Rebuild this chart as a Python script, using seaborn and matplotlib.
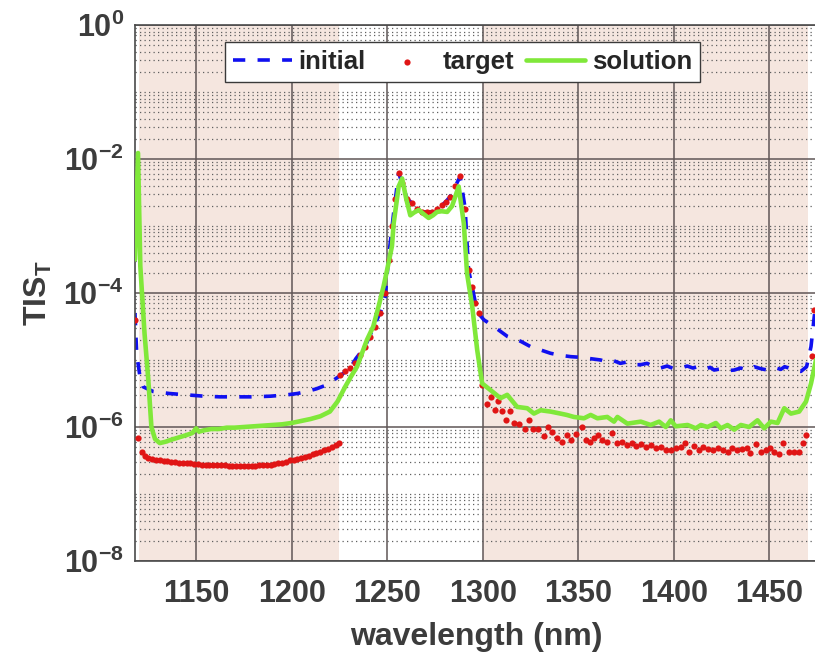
import numpy as np
import pandas as pd
import matplotlib
matplotlib.use("Agg")
import matplotlib.pyplot as plt
import seaborn as sns
from matplotlib.ticker import FixedLocator, NullFormatter, FuncFormatter

# wavelength (nm) and TIS given as log10 exponent
wl_initial = [1118.0, 1118.9, 1120.6, 1122.3, 1127.5, 1136.0, 1145.0, 1154.0, 1162.5, 1171.0,
              1180.0, 1189.0, 1197.5, 1203.0, 1208.0, 1213.0, 1218.5, 1222.0, 1227.0, 1230.6,
              1233.6, 1238.4, 1242.3, 1246.5, 1249.0, 1250.8, 1253.4, 1256.0, 1257.8, 1260.4,
              1263.0, 1265.6, 1268.2, 1270.8, 1273.4, 1276.0, 1278.6, 1280.6, 1283.0, 1285.6,
              1288.2, 1290.8, 1292.6, 1294.5, 1296.2, 1298.5, 1300.6, 1305.8, 1313.0, 1319.8,
              1325.0, 1330.3, 1335.5, 1340.7, 1346.0, 1351.2, 1356.4, 1361.7, 1365.0, 1368.5,
              1372.0, 1375.5, 1379.0, 1382.7, 1386.0, 1389.5, 1393.0, 1396.5, 1400.0, 1403.6,
              1407.0, 1410.0, 1412.4, 1416.0, 1419.0, 1421.1, 1425.0, 1428.0, 1431.6, 1435.0,
              1438.5, 1442.0, 1445.5, 1449.0, 1452.5, 1456.0, 1458.0, 1461.5, 1464.0, 1466.5,
              1469.5, 1471.8, 1473.5, 1475.0]
log_initial = [-4.30, -4.90, -5.25, -5.40, -5.47, -5.50, -5.52, -5.54, -5.55, -5.55,
               -5.55, -5.54, -5.52, -5.50, -5.47, -5.43, -5.37, -5.30, -5.20, -5.12,
               -4.98, -4.80, -4.55, -4.28, -4.05, -3.45, -2.80, -2.21, -2.36, -2.59,
               -2.66, -2.74, -2.79, -2.79, -2.79, -2.74, -2.69, -2.64, -2.56, -2.41,
               -2.26, -2.74, -3.66, -3.91, -4.15, -4.33, -4.40, -4.50, -4.65, -4.72,
               -4.80, -4.85, -4.90, -4.93, -4.95, -4.96, -4.98, -5.00, -5.03, -5.01,
               -5.05, -5.03, -5.07, -5.07, -5.05, -5.10, -5.12, -5.09, -5.13, -5.12,
               -5.09, -5.12, -5.10, -5.14, -5.11, -5.15, -5.13, -5.16, -5.15, -5.12,
               -5.15, -5.10, -5.13, -5.15, -5.11, -5.14, -5.10, -5.13, -5.16, -5.17,
               -5.10, -4.80, -4.35, -4.05]

# target: low in the stop bands, equal to initial in the pass band
wl_target_low = [1118.2, 1119.7, 1121.5,
                 1123, 1125, 1127, 1129, 1131, 1133, 1135, 1137, 1139, 1141,
                 1143, 1145, 1147, 1149, 1151, 1153, 1155, 1157, 1159, 1161,
                 1163, 1165, 1167, 1169, 1171, 1173, 1175, 1177, 1179, 1181,
                 1183, 1185, 1187, 1189, 1191, 1193, 1195, 1197, 1199, 1201,
                 1203, 1205, 1207, 1209, 1211, 1213, 1215, 1217, 1219, 1221,
                 1223, 1225]
log_target_low = [-4.40, -6.17, -6.38,
                  -6.44, -6.46, -6.48, -6.49, -6.50, -6.51, -6.51, -6.52, -6.52, -6.53,
                  -6.53, -6.54, -6.54, -6.55, -6.55, -6.56, -6.56, -6.56, -6.57, -6.57,
                  -6.57, -6.57, -6.58, -6.58, -6.58, -6.58, -6.58, -6.58, -6.58, -6.58,
                  -6.57, -6.57, -6.56, -6.56, -6.55, -6.54, -6.53, -6.52, -6.50, -6.49,
                  -6.48, -6.46, -6.45, -6.43, -6.41, -6.39, -6.37, -6.35, -6.33, -6.30,
                  -6.27, -6.24]
wl_target_pass = [1225.4, 1228.0, 1230.6, 1233.2, 1235.8, 1238.4, 1241.0, 1243.6, 1246.2, 1248.8,
                  1250.8, 1252.4, 1254.0, 1256.0, 1257.8, 1260.4, 1263.0, 1265.6, 1268.2, 1270.8,
                  1273.4, 1276.0, 1278.6, 1280.6, 1283.0, 1285.6, 1288.2, 1290.8, 1292.6, 1294.5,
                  1296.2, 1297.9]
log_target_pass = [-5.22, -5.17, -5.12, -5.05, -4.93, -4.80, -4.66, -4.50, -4.30, -4.00,
                   -3.50, -3.00, -2.60, -2.21, -2.36, -2.59, -2.66, -2.74, -2.79, -2.79,
                   -2.79, -2.74, -2.69, -2.64, -2.56, -2.41, -2.26, -2.74, -3.66, -3.91,
                   -4.15, -4.30]
wl_target_high = [1299.7, 1302.0, 1304.1, 1306.3, 1308.1, 1310.2, 1312.4, 1314.2, 1316.3, 1318.9,
                  1321.9, 1324.1, 1326.2, 1329.1, 1332.0, 1334.1, 1336.4, 1339.0, 1341.6, 1344.3,
                  1346.4, 1348.6, 1352.1, 1353.9, 1356.1, 1358.2, 1360.5, 1362.6, 1365.2, 1367.8,
                  1370.5, 1373.1, 1375.7, 1378.0, 1380.3, 1382.7, 1385.2, 1387.9, 1390.5, 1393.1,
                  1395.8, 1398.4, 1401.0, 1403.6, 1406.0, 1408.2, 1410.7, 1413.2, 1415.5, 1418.0,
                  1420.6, 1423.0, 1425.8, 1428.1, 1430.7, 1433.2, 1435.7, 1438.2, 1440.0, 1443.0,
                  1445.6, 1448.0, 1450.6, 1452.6, 1455.0, 1457.3, 1460.3, 1462.9, 1465.6, 1467.4,
                  1469.1, 1472.3, 1473.5]
log_target_high = [-5.37, -5.66, -5.55, -5.74, -5.61, -5.76, -5.89, -5.76, -5.94, -5.96,
                   -6.03, -5.89, -6.03, -6.03, -6.13, -6.00, -6.07, -6.17, -6.22, -6.12,
                   -6.20, -6.10, -6.00, -6.19, -6.23, -6.17, -6.12, -6.20, -6.22, -6.09,
                   -6.24, -6.22, -6.27, -6.24, -6.29, -6.26, -6.30, -6.27, -6.32, -6.30,
                   -6.34, -6.34, -6.32, -6.30, -6.24, -6.37, -6.29, -6.34, -6.30, -6.33,
                   -6.34, -6.31, -6.34, -6.37, -6.32, -6.34, -6.33, -6.31, -6.39, -6.25,
                   -6.37, -6.34, -6.32, -6.38, -6.40, -6.24, -6.37, -6.38, -6.38, -6.24,
                   -6.12, -4.94, -4.25]

wl_solution = [1118.0, 1119.6, 1120.8, 1123.0, 1125.0, 1126.6, 1128.5, 1131.0, 1134.0, 1137.0,
               1141.6, 1145.0, 1148.0, 1150.0, 1151.5, 1154.0, 1158.0, 1162.0, 1166.0, 1170.0,
               1175.0, 1180.0, 1185.0, 1190.0, 1195.0, 1200.0, 1205.0, 1210.0, 1215.0, 1220.0,
               1224.0, 1228.0, 1231.0, 1234.2, 1239.4, 1242.7, 1245.5, 1248.1, 1250.0, 1252.5,
               1253.4, 1256.0, 1257.8, 1260.0, 1262.1, 1264.0, 1266.5, 1269.0, 1271.7, 1274.0,
               1276.1, 1278.5, 1281.4, 1284.0, 1287.4, 1290.1, 1291.8, 1294.5, 1297.1, 1299.7,
               1304.1, 1309.3, 1312.8, 1318.0, 1323.3, 1326.8, 1330.3, 1335.5, 1340.7, 1344.0,
               1347.7, 1353.0, 1356.5, 1360.0, 1365.2, 1368.7, 1370.5, 1375.7, 1382.7, 1387.9,
               1392.3, 1395.8, 1398.4, 1401.0, 1407.2, 1411.5, 1414.2, 1417.6, 1422.0, 1424.6,
               1428.1, 1431.6, 1435.1, 1439.4, 1443.8, 1447.3, 1450.8, 1454.3, 1457.8, 1461.3,
               1465.6, 1469.2, 1471.8, 1474.4, 1475.0]
log_solution = [-3.50, -1.91, -3.60, -4.60, -5.30, -6.00, -6.18, -6.24, -6.22, -6.19,
                -6.15, -6.12, -6.09, -6.02, -6.07, -6.05, -6.03, -6.03, -6.01, -6.01,
                -6.00, -5.99, -5.98, -5.97, -5.96, -5.94, -5.91, -5.88, -5.84, -5.77,
                -5.62, -5.40, -5.25, -5.10, -4.70, -4.50, -4.20, -3.90, -3.65, -3.30,
                -2.96, -2.41, -2.29, -2.60, -2.84, -2.80, -2.76, -2.82, -2.88, -2.84,
                -2.79, -2.78, -2.79, -2.70, -2.41, -2.96, -3.71, -4.20, -4.85, -5.35,
                -5.45, -5.57, -5.52, -5.70, -5.72, -5.80, -5.75, -5.77, -5.80, -5.82,
                -5.85, -5.87, -5.82, -5.87, -5.85, -5.92, -5.85, -5.95, -5.92, -5.97,
                -5.92, -6.00, -5.90, -5.99, -5.97, -6.02, -5.97, -6.00, -5.94, -6.02,
                -5.97, -6.04, -5.97, -6.00, -5.90, -6.02, -5.92, -5.94, -5.72, -5.80,
                -5.77, -5.62, -5.35, -5.00, -4.85]

stop_bands = [(1120, 1225), (1300, 1470)]
x_ticks = [1150, 1200, 1250, 1300, 1350, 1400, 1450]

df_init = pd.DataFrame({"wl": wl_initial, "tis": 10.0 ** np.array(log_initial)})
df_target = pd.DataFrame({
    "wl": wl_target_low + wl_target_pass + wl_target_high,
    "tis": 10.0 ** np.array(log_target_low + log_target_pass + log_target_high),
})
df_sol = pd.DataFrame({"wl": wl_solution, "tis": 10.0 ** np.array(log_solution)})

sns.set_style("white")
plt.rcParams["font.family"] = ["Liberation Sans", "DejaVu Sans"]
plt.rcParams["font.weight"] = "bold"
plt.rcParams["axes.labelweight"] = "bold"
plt.rcParams["mathtext.fontset"] = "custom"
plt.rcParams["mathtext.rm"] = "Liberation Sans:bold"
plt.rcParams["mathtext.it"] = "Liberation Sans:bold"
plt.rcParams["mathtext.bf"] = "Liberation Sans:bold"
plt.rcParams["mathtext.default"] = "rm"

txt = "#3c3c3c"

fig = plt.figure(figsize=(8.15, 6.53), dpi=100)
ax = fig.add_axes([0.1656, 0.1409, 0.837, 0.8208])
ax.set_yscale("log")

for lo, hi in stop_bands:
    ax.axvspan(lo, hi, color="#f5e6df", lw=0, zorder=0.1)

sns.lineplot(data=df_init, x="wl", y="tis", ax=ax, color="#1010f0", lw=2.6,
             linestyle=(0, (3.4, 3.4)), label="initial", zorder=2.5)
sns.scatterplot(data=df_target, x="wl", y="tis", ax=ax, color="#e01515", s=20,
                linewidth=0, label="target", zorder=3)
sns.lineplot(data=df_sol, x="wl", y="tis", ax=ax, color="#80e83a", lw=3.3,
             label="solution", zorder=4)

ax.set_xlim(1118, 1475)
ax.set_ylim(1e-8, 1)
ax.set_xticks(x_ticks)
ax.yaxis.set_major_locator(FixedLocator([1e-8, 1e-6, 1e-4, 1e-2, 1]))
ax.yaxis.set_major_formatter(FuncFormatter(lambda v, _: f"$10^{{{int(round(np.log10(v)))}}}$"))
minor_pos = [k * 10.0 ** n for n in range(-8, 0) for k in range(1, 10)
             if not (k == 1 and n % 2 == 0)]
ax.yaxis.set_minor_locator(FixedLocator(minor_pos))
ax.yaxis.set_minor_formatter(NullFormatter())

ax.set_axisbelow(True)
ax.grid(which="major", axis="both", color="#5f5656", linestyle="-", linewidth=1.1)
ax.grid(which="minor", axis="y", color="#606060", linestyle=(0, (1, 2.6)), linewidth=0.9)

ax.tick_params(axis="both", which="both", direction="in", colors=txt)
ax.tick_params(axis="x", which="major", labelsize=22, pad=13, length=5)
ax.tick_params(axis="y", which="major", labelsize=22, pad=8, length=5)
ax.tick_params(axis="y", which="minor", length=3)
for side in ["left", "bottom", "top", "right"]:
    ax.spines[side].set_color("#4a4a4a")
    ax.spines[side].set_linewidth(1.2)

ax.set_xlabel("wavelength (nm)", fontsize=23, fontweight="bold", color=txt, labelpad=9)
ax.set_ylabel("$TIS_T$", fontsize=23, color=txt, labelpad=7)

ax.legend(loc="upper center", bbox_to_anchor=(0.48, 0.968), ncol=3,
          prop={"size": 18.5, "weight": "bold"}, frameon=True, fancybox=False,
          edgecolor="#3a3a3a", framealpha=1, handlelength=2.3, handletextpad=0.25,
          columnspacing=0.45, borderpad=0.3, borderaxespad=0)

fig.savefig("out.png", dpi=100)
